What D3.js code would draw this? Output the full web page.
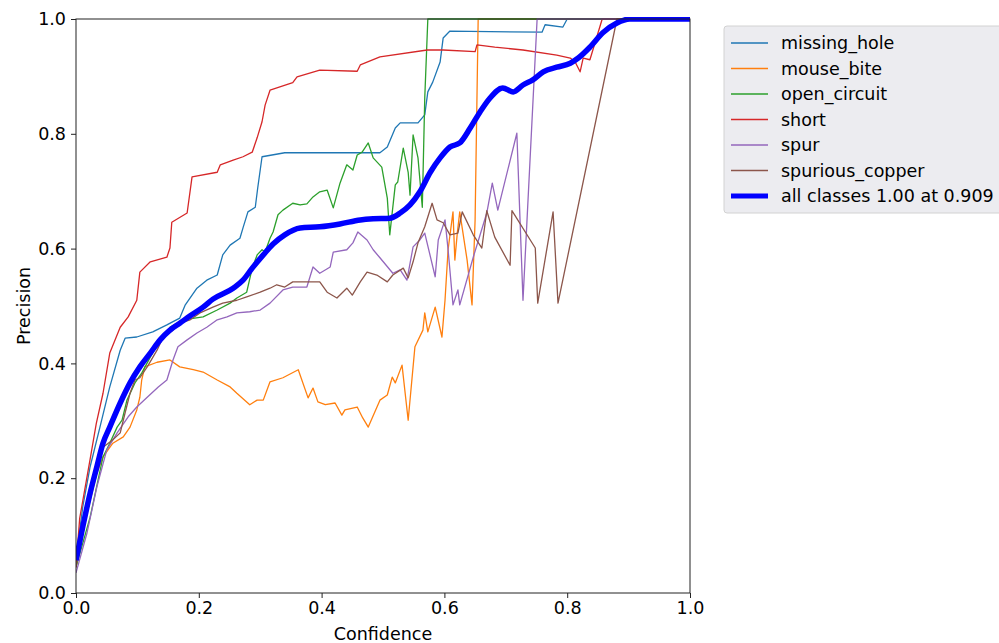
<!DOCTYPE html>
<html>
<head>
<meta charset="utf-8">
<script src="https://cdn.jsdelivr.net/npm/d3@7"></script>
<style>
  html, body { margin: 0; padding: 0; background: #fff; }
  svg { display: block; }
  text { font-family: "DejaVu Sans", sans-serif; fill: #000; }
</style>
</head>
<body>
<svg id="chart" width="999" height="643"></svg>
<script>
// ---- data (confidence, precision) ----
const classNames = ["missing_hole", "mouse_bite", "open_circuit", "short", "spur", "spurious_copper"];
const classColors = ["#1f77b4", "#ff7f0e", "#2ca02c", "#d62728", "#9467bd", "#8c564b"];
const allLabel = "all classes 1.00 at 0.909";
const xTicks = [0.0, 0.2, 0.4, 0.6, 0.8, 1.0];
const yTicks = [0.0, 0.2, 0.4, 0.6, 0.8, 1.0];

const missingHole = [[0,0.045],[0.005,0.10],[0.011,0.150],[0.023,0.220],[0.039,0.289],[0.055,0.359],[0.072,0.423],[0.080,0.444],[0.099,0.446],[0.125,0.455],[0.148,0.467],[0.169,0.479],[0.178,0.502],[0.197,0.531],[0.213,0.545],[0.230,0.554],[0.239,0.589],[0.251,0.606],[0.267,0.618],[0.272,0.636],[0.280,0.664],[0.292,0.672],[0.296,0.706],[0.303,0.760],[0.340,0.767],[0.495,0.767],[0.507,0.777],[0.520,0.810],[0.528,0.819],[0.557,0.819],[0.568,0.833],[0.573,0.873],[0.581,0.890],[0.593,0.925],[0.598,0.967],[0.609,0.979],[0.759,0.977],[0.764,0.990],[0.793,0.986],[0.800,1.0],[1,1]];

const mouseBite = [[0,0.045],[0.018,0.139],[0.034,0.209],[0.044,0.237],[0.060,0.261],[0.077,0.272],[0.088,0.289],[0.099,0.319],[0.104,0.341],[0.107,0.371],[0.112,0.394],[0.132,0.402],[0.153,0.406],[0.169,0.394],[0.191,0.389],[0.207,0.385],[0.230,0.371],[0.251,0.359],[0.262,0.348],[0.283,0.328],[0.295,0.336],[0.305,0.336],[0.316,0.368],[0.337,0.375],[0.362,0.389],[0.378,0.340],[0.386,0.357],[0.394,0.333],[0.406,0.328],[0.422,0.331],[0.433,0.310],[0.438,0.319],[0.458,0.324],[0.467,0.305],[0.476,0.289],[0.495,0.336],[0.507,0.345],[0.515,0.376],[0.520,0.366],[0.531,0.397],[0.541,0.301],[0.552,0.429],[0.565,0.458],[0.568,0.488],[0.573,0.455],[0.585,0.498],[0.596,0.446],[0.601,0.510],[0.606,0.598],[0.614,0.664],[0.617,0.580],[0.621,0.627],[0.625,0.664],[0.637,0.580],[0.645,0.502],[0.650,0.650],[0.655,1.0],[1,1]];

const openCircuit = [[0,0.045],[0.023,0.132],[0.044,0.237],[0.055,0.261],[0.067,0.289],[0.075,0.301],[0.083,0.336],[0.096,0.366],[0.107,0.383],[0.121,0.411],[0.137,0.441],[0.148,0.453],[0.153,0.463],[0.174,0.476],[0.207,0.481],[0.230,0.493],[0.251,0.505],[0.262,0.514],[0.278,0.524],[0.287,0.566],[0.295,0.589],[0.303,0.598],[0.308,0.594],[0.316,0.618],[0.321,0.629],[0.329,0.659],[0.337,0.667],[0.353,0.679],[0.365,0.676],[0.376,0.678],[0.386,0.690],[0.397,0.699],[0.409,0.702],[0.419,0.671],[0.430,0.714],[0.441,0.746],[0.451,0.737],[0.458,0.763],[0.466,0.768],[0.476,0.784],[0.484,0.758],[0.498,0.742],[0.507,0.688],[0.511,0.624],[0.520,0.711],[0.524,0.716],[0.533,0.775],[0.541,0.733],[0.544,0.693],[0.549,0.798],[0.557,0.758],[0.564,0.672],[0.568,0.862],[0.573,1.0],[1,1]];

const shortCls = [[0,0.045],[0.006,0.13],[0.0228,0.232],[0.033,0.295],[0.044,0.348],[0.055,0.418],[0.072,0.463],[0.085,0.481],[0.099,0.510],[0.104,0.559],[0.121,0.577],[0.148,0.585],[0.153,0.601],[0.156,0.646],[0.181,0.662],[0.189,0.725],[0.230,0.733],[0.235,0.746],[0.256,0.754],[0.272,0.760],[0.287,0.768],[0.295,0.793],[0.303,0.821],[0.308,0.850],[0.316,0.876],[0.353,0.889],[0.360,0.899],[0.397,0.911],[0.458,0.909],[0.463,0.920],[0.495,0.934],[0.572,0.946],[0.598,0.946],[0.650,0.943],[0.653,0.955],[0.682,0.951],[0.728,0.946],[0.783,0.937],[0.805,0.932],[0.813,0.925],[0.821,0.908],[0.826,0.932],[0.837,0.929],[0.857,1.0],[1,1]];

const spur = [[0,0.035],[0.018,0.105],[0.034,0.185],[0.050,0.249],[0.067,0.279],[0.085,0.307],[0.099,0.324],[0.116,0.341],[0.134,0.359],[0.148,0.371],[0.158,0.406],[0.166,0.429],[0.181,0.441],[0.197,0.453],[0.213,0.463],[0.230,0.476],[0.246,0.481],[0.262,0.488],[0.283,0.490],[0.300,0.493],[0.316,0.505],[0.337,0.528],[0.353,0.533],[0.376,0.533],[0.386,0.568],[0.397,0.557],[0.414,0.568],[0.419,0.594],[0.441,0.598],[0.451,0.610],[0.459,0.629],[0.474,0.615],[0.484,0.598],[0.495,0.584],[0.516,0.557],[0.528,0.563],[0.539,0.545],[0.549,0.603],[0.560,0.615],[0.568,0.627],[0.585,0.551],[0.590,0.615],[0.601,0.650],[0.606,0.598],[0.614,0.502],[0.622,0.528],[0.625,0.502],[0.647,0.585],[0.669,0.662],[0.678,0.714],[0.687,0.667],[0.718,0.801],[0.728,0.510],[0.751,1.0],[1,1]];

const spuriousCopper = [[0,0.045],[0.018,0.150],[0.034,0.220],[0.044,0.254],[0.060,0.267],[0.072,0.279],[0.080,0.314],[0.088,0.348],[0.096,0.371],[0.104,0.375],[0.116,0.394],[0.132,0.423],[0.142,0.446],[0.158,0.458],[0.169,0.470],[0.186,0.476],[0.202,0.488],[0.223,0.498],[0.239,0.505],[0.262,0.510],[0.278,0.516],[0.300,0.524],[0.316,0.531],[0.327,0.537],[0.340,0.533],[0.353,0.542],[0.376,0.542],[0.397,0.542],[0.409,0.524],[0.425,0.514],[0.441,0.531],[0.450,0.519],[0.463,0.542],[0.474,0.559],[0.490,0.554],[0.507,0.542],[0.516,0.554],[0.533,0.566],[0.541,0.549],[0.549,0.577],[0.557,0.610],[0.568,0.638],[0.580,0.679],[0.588,0.650],[0.598,0.645],[0.609,0.624],[0.622,0.627],[0.629,0.664],[0.647,0.624],[0.661,0.601],[0.669,0.666],[0.682,0.620],[0.707,0.571],[0.710,0.666],[0.748,0.601],[0.752,0.505],[0.777,0.664],[0.785,0.505],[0.881,1.0],[1,1]];

const allClasses = [[0,0.057],[0.011,0.115],[0.023,0.174],[0.034,0.220],[0.044,0.261],[0.055,0.289],[0.072,0.331],[0.088,0.366],[0.104,0.394],[0.121,0.418],[0.137,0.441],[0.153,0.458],[0.169,0.470],[0.186,0.483],[0.207,0.498],[0.223,0.512],[0.256,0.531],[0.272,0.545],[0.287,0.566],[0.305,0.589],[0.321,0.608],[0.340,0.624],[0.365,0.636],[0.397,0.638],[0.430,0.643],[0.463,0.650],[0.484,0.652],[0.511,0.653],[0.528,0.662],[0.544,0.676],[0.560,0.699],[0.577,0.733],[0.593,0.758],[0.609,0.777],[0.625,0.784],[0.642,0.810],[0.658,0.838],[0.674,0.862],[0.695,0.880],[0.712,0.873],[0.728,0.885],[0.744,0.894],[0.761,0.908],[0.783,0.916],[0.805,0.923],[0.818,0.932],[0.837,0.951],[0.858,0.976],[0.881,0.993],[0.902,1.0],[1,1.0]];

const classSeries = [missingHole, mouseBite, openCircuit, shortCls, spur, spuriousCopper];

// ---- layout ----
const svg = d3.select("#chart");
const pL = 76, pR = 690, pT = 19, pB = 593;
const FS = 17.5;

const x = d3.scaleLinear().domain([0, 1]).range([pL, pR]);
const y = d3.scaleLinear().domain([0, 1]).range([pB, pT]);

svg.append("clipPath").attr("id", "clip")
  .append("rect").attr("x", pL).attr("y", pT - 2).attr("width", pR - pL + 2).attr("height", pB - pT + 4);

const line = d3.line().x(d => x(d[0])).y(d => y(d[1]));
const smooth = d3.line().x(d => x(d[0])).y(d => y(d[1])).curve(d3.curveMonotoneX);

const plot = svg.append("g").attr("clip-path", "url(#clip)");
classSeries.forEach((s, i) => {
  plot.append("path").datum(s)
    .attr("d", line)
    .attr("fill", "none")
    .attr("stroke", classColors[i])
    .attr("stroke-width", 1.3)
    .attr("stroke-linejoin", "round");
});
plot.append("path").datum(allClasses)
  .attr("d", smooth)
  .attr("fill", "none")
  .attr("stroke", "#0000ff")
  .attr("stroke-width", 5.5)
  .attr("stroke-linejoin", "round");

// frame
svg.append("rect").attr("x", pL).attr("y", pT).attr("width", pR - pL).attr("height", pB - pT)
  .attr("fill", "none").attr("stroke", "#222").attr("stroke-width", 1);

// axes
const xAxis = d3.axisBottom(x).tickValues(xTicks).tickFormat(d3.format(".1f")).tickSize(5).tickPadding(4);
const yAxis = d3.axisLeft(y).tickValues(yTicks).tickFormat(d3.format(".1f")).tickSize(5).tickPadding(5);

const gx = svg.append("g").attr("transform", `translate(0,${pB})`).call(xAxis);
const gy = svg.append("g").attr("transform", `translate(${pL},0)`).call(yAxis);
[gx, gy].forEach(g => {
  g.select(".domain").remove();
  g.selectAll("line").attr("stroke", "#222");
  g.selectAll("text").attr("font-size", FS).attr("font-family", "DejaVu Sans").attr("fill", "#000");
});

svg.append("text").attr("x", (pL + pR) / 2).attr("y", 640)
  .attr("text-anchor", "middle").attr("font-size", FS).text("Confidence");
svg.append("text").attr("transform", `translate(30,${(pT + pB) / 2}) rotate(-90)`)
  .attr("text-anchor", "middle").attr("font-size", FS).text("Precision");

// legend
const lg = svg.append("g");
lg.append("rect").attr("x", 724).attr("y", 26).attr("width", 290).attr("height", 187)
  .attr("rx", 3).attr("fill", "#ececf0").attr("stroke", "#d2d2d2").attr("stroke-width", 1);
const legendNames = classNames.concat([allLabel]);
const legendColors = classColors.concat(["#0000ff"]);
legendNames.forEach((name, i) => {
  const cy = 43 + i * 25.5;
  lg.append("line").attr("x1", 731).attr("x2", 768).attr("y1", cy).attr("y2", cy)
    .attr("stroke", legendColors[i]).attr("stroke-width", i === 6 ? 5 : 1.3);
  lg.append("text").attr("x", 781).attr("y", cy).attr("dy", "0.35em")
    .attr("font-size", FS).text(name);
});
</script>
</body>
</html>
